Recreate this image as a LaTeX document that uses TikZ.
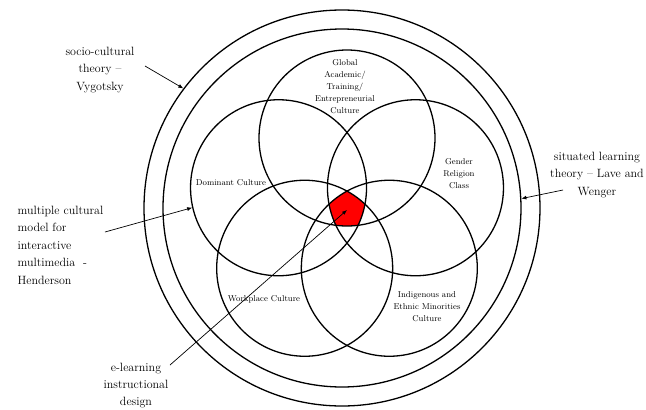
\documentclass[tikz,border=0pt]{standalone}
\usetikzlibrary{arrows.meta}

\begin{document}
\begin{tikzpicture}[x=1pt,y=-1pt,ring/.style={draw,circle,line width=1.3pt,inner sep=0pt},venn/.style={ring,minimum size=176pt},lbl/.style={align=center,font=\fontsize{8.5}{12}\selectfont},note/.style={align=center,font=\fontsize{12}{17.5}\selectfont},arr/.style={-{Latex[length=5pt,width=4pt]},line width=0.7pt}]
\useasboundingbox (0,0) rectangle (646,410);
\coordinate (core) at (347,210);
\foreach \n/\a in {1/90,2/162,3/234,4/306,5/18}
  \coordinate (c\n) at ([shift={(\a:72pt)}]core);
% shared core of the five cultures
\begin{scope}
\clip (c1) circle[radius=88pt];\clip (c2) circle[radius=88pt];\clip (c3) circle[radius=88pt];
\clip (c4) circle[radius=88pt];\clip (c5) circle[radius=88pt];
\fill[red] (core) circle[radius=40pt];
\end{scope}
\node[ring,minimum size=396pt](socio) at (342,208){};
\node[ring,minimum size=358pt](situated) at (342,208){};
\node[venn](glob) at (c1){};
\node[venn](dom) at (c2){};
\node[venn](work) at (c3){};
\node[venn](indig) at (c4){};
\node[venn](gender) at (c5){};
\node[lbl](globtxt) at (345,87){Global\\Academic/\\Training/\\Entrepreneurial\\Culture};
\node[lbl](domtxt) at (231,183){Dominant Culture};
\node[lbl](gendertxt) at (459,174){Gender\\Religion\\Class};
\node[lbl](worktxt) at (264,299){Workplace Culture};
\node[lbl](indigtxt) at (427,307){Indigenous and\\Ethnic Minorities\\Culture};
% theories and models round the rings
\node[note](vyg) at (100,70){socio-cultural\\theory --\\Vygotsky};
\node[note](lave) at (597,175){situated learning\\theory -- Lave and\\Wenger};
\node[note,align=left,anchor=west](hend) at (14,245){multiple cultural\\model for\\interactive\\multimedia\ \ -\\Henderson};
\node[note,font=\fontsize{12}{17}\selectfont](elearn) at (136,386){e-learning\\instructional\\design};
\coordinate (vygtail) at (145,66);
\coordinate (lavetail) at (563,190);
\coordinate (hendtail) at (105,232);
\coordinate (eltail) at (170,365);
\draw[arr](vygtail)--(socio.143);\draw[arr](lavetail)--(situated.3);
\draw[arr](hendtail)--(dom.193);\draw[arr](eltail)--(core);
\end{tikzpicture}
\end{document}
